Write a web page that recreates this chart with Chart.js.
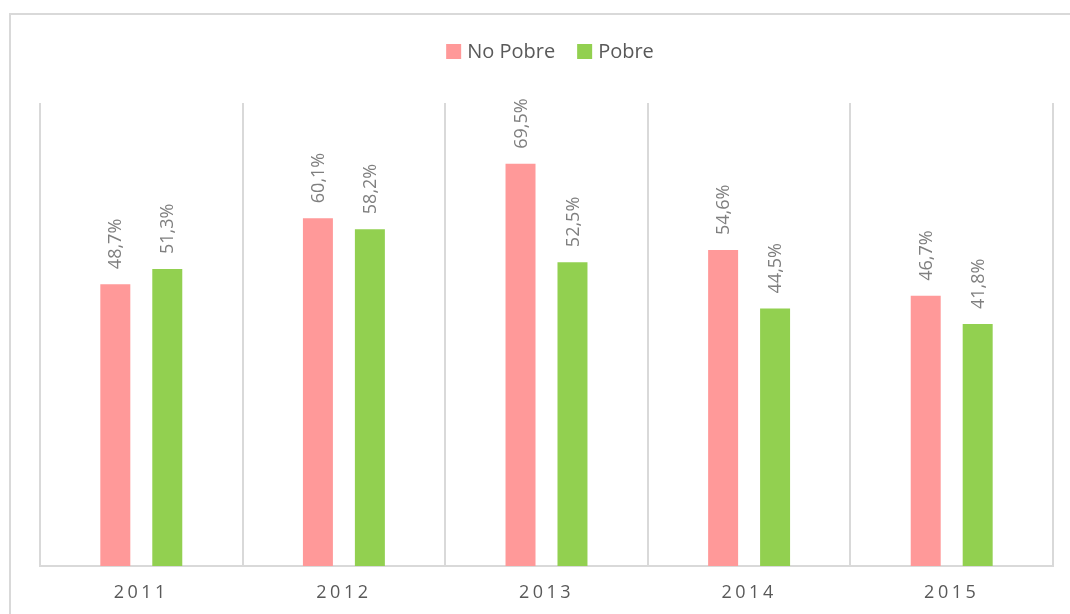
<!DOCTYPE html>
<html lang="es">
<head>
<meta charset="UTF-8">
<title>No Pobre / Pobre</title>
<script src="https://cdn.jsdelivr.net/npm/chart.js"></script>
<style>
  html, body { margin: 0; padding: 0; background: #fff; }
  #wrap { width: 1070px; height: 614px; }
</style>
</head>
<body>
<div id="wrap"><canvas id="barChart"></canvas></div>
<script>
const years = ['2011', '2012', '2013', '2014', '2015'];
const noPobre = [48.7, 60.1, 69.5, 54.6, 46.7];
const pobre = [51.3, 58.2, 52.5, 44.5, 41.8];

const gray = '#595959';
const labelGray = '#7f7f7f';
const lineGray = '#d9d9d9';

const fmt = v => v.toFixed(1).replace('.', ',') + '%';

// outer frame like the Excel chart area
const framePlugin = {
  id: 'frame',
  beforeDraw(chart) {
    const ctx = chart.ctx;
    ctx.save();
    ctx.strokeStyle = lineGray;
    ctx.lineWidth = 2;
    ctx.strokeRect(10, 14, 1200, 800);
    ctx.restore();
  }
};

// legend drawn Excel-style: small square, short gap, text
const excelLegend = {
  id: 'excelLegend',
  afterDraw(chart) {
    const ctx = chart.ctx;
    const box = 15, gap = 6, itemGap = 22, cy = 51.5;
    ctx.save();
    ctx.font = '20px "Open Sans"';
    const items = chart.data.datasets.map(ds => ({
      text: ds.label, color: ds.backgroundColor, w: ctx.measureText(ds.label).width
    }));
    const total = items.reduce((s, it) => s + box + gap + it.w, 0) + itemGap * (items.length - 1);
    let x = 550 - total / 2;
    ctx.textBaseline = 'middle';
    ctx.textAlign = 'left';
    items.forEach(it => {
      ctx.fillStyle = it.color;
      ctx.fillRect(x, cy - box / 2, box, box);
      x += box + gap;
      ctx.fillStyle = gray;
      ctx.fillText(it.text, x, cy + 1);
      x += it.w + itemGap;
    });
    ctx.restore();
  }
};

// rotated value labels above the bars
const valueLabels = {
  id: 'valueLabels',
  afterDatasetsDraw(chart) {
    const ctx = chart.ctx;
    ctx.save();
    ctx.font = '18px "Open Sans"';
    ctx.fillStyle = labelGray;
    ctx.textAlign = 'left';
    ctx.textBaseline = 'middle';
    chart.data.datasets.forEach((ds, i) => {
      chart.getDatasetMeta(i).data.forEach((bar, j) => {
        ctx.save();
        ctx.translate(bar.x + 1, bar.y - 15);
        ctx.rotate(-Math.PI / 2);
        ctx.fillText(fmt(ds.data[j]), 0, 0);
        ctx.restore();
      });
    });
    ctx.restore();
  }
};

const ctx = document.getElementById('barChart').getContext('2d');
const chart = new Chart(ctx, {
  type: 'bar',
  data: {
    labels: years,
    datasets: [
      { label: 'No Pobre', data: noPobre, backgroundColor: '#ff9999' },
      { label: 'Pobre', data: pobre, backgroundColor: '#92d050' }
    ]
  },
  options: {
    responsive: true,
    maintainAspectRatio: false,
    animation: false,
    categoryPercentage: 0.513,
    barPercentage: 0.577,
    layout: { padding: { left: 40, right: 17, top: 103, bottom: 0 } },
    plugins: {
      legend: { display: false },
      tooltip: { enabled: false }
    },
    scales: {
      x: {
        grid: { color: lineGray, lineWidth: 2, drawTicks: false, offset: true },
        border: { color: lineGray, width: 2 },
        ticks: { color: gray, padding: 16, font: { family: 'Open Sans', size: 18 } },
        afterFit(scale) { scale.height = 48; }
      },
      y: {
        display: false,
        min: 0,
        max: 80
      }
    }
  },
  plugins: [framePlugin, valueLabels, excelLegend]
});

// Excel spreads the category labels out a little
const xs = chart.scales.x;
const drawLabels = xs.drawLabels.bind(xs);
xs.drawLabels = function (area) {
  const c = chart.ctx;
  c.save();
  c.letterSpacing = '3.5px';
  drawLabels(area);
  c.restore();
};
chart.draw();
</script>
</body>
</html>
